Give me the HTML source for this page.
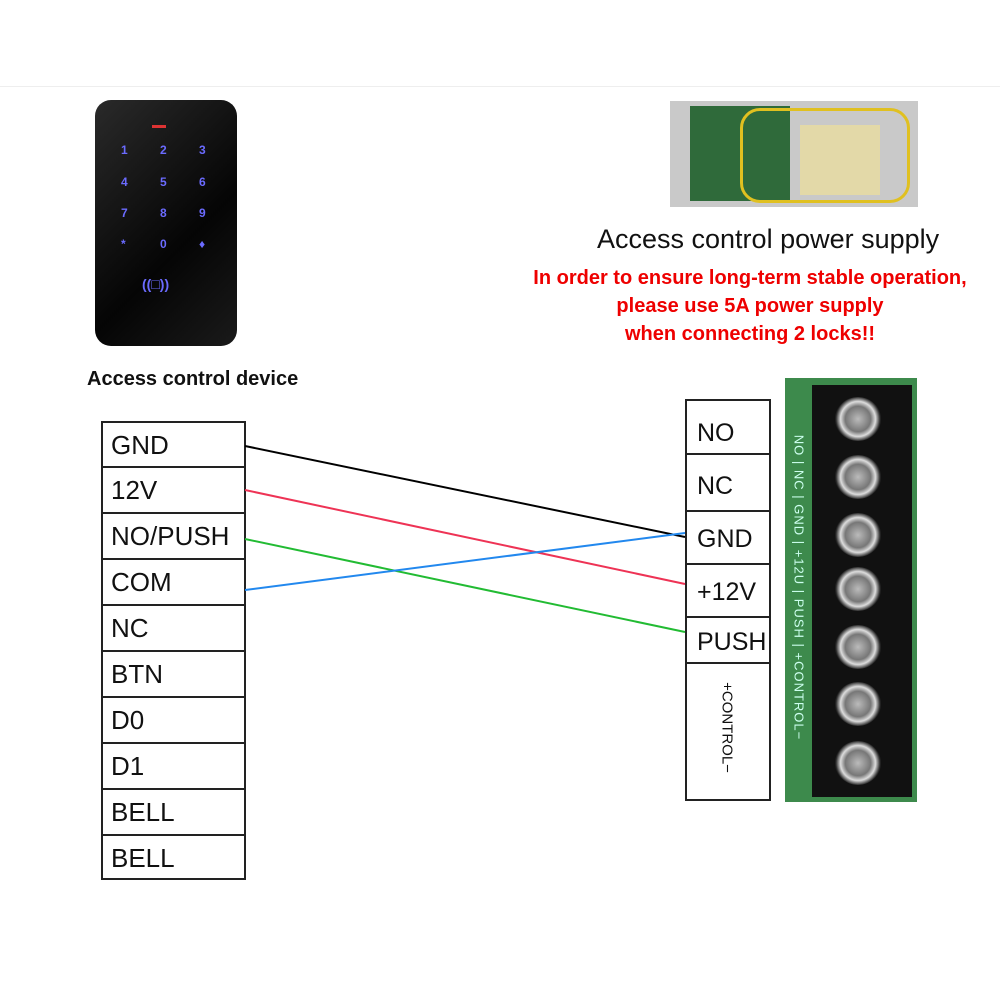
<!DOCTYPE html>
<html><head><style>
body{margin:0;width:1000px;height:1000px;background:#fff;position:relative;overflow:hidden;font-family:"Liberation Sans",sans-serif}
.a{position:absolute}
.t{position:absolute;white-space:nowrap}
.cell{position:absolute;left:101px;width:145px;border:2px solid #222;border-bottom:none;font-size:26px;line-height:44px;padding-left:8px;box-sizing:border-box;height:46px;color:#111}
.rc{position:absolute;left:685px;width:86px;border:2px solid #222;border-bottom:none;font-size:25px;padding-left:10px;box-sizing:border-box;color:#111}
.k{position:absolute;color:#6b6bff;font-size:12px;font-weight:bold}
.scr{position:absolute;left:48px;width:46px;height:44px;border-radius:50%;background:radial-gradient(circle,#bbb 0,#777 40%,#ddd 55%,#222 70%);}
</style></head><body>
<div class="a" style="left:0;top:86px;width:1000px;height:1px;background:#eee"></div>
<div class="a" style="left:95px;top:100px;width:142px;height:246px;border-radius:16px;background:linear-gradient(135deg,#2a2a2a,#050505 60%,#1a1a1a)"></div>
<div class="a" style="left:152px;top:125px;width:14px;height:3px;background:#d33"></div>
<div class="k" style="left:121px;top:143px">1</div><div class="k" style="left:160px;top:143px">2</div><div class="k" style="left:199px;top:143px">3</div>
<div class="k" style="left:121px;top:175px">4</div><div class="k" style="left:160px;top:175px">5</div><div class="k" style="left:199px;top:175px">6</div>
<div class="k" style="left:121px;top:206px">7</div><div class="k" style="left:160px;top:206px">8</div><div class="k" style="left:199px;top:206px">9</div>
<div class="k" style="left:121px;top:237px">*</div><div class="k" style="left:160px;top:237px">0</div><div class="k" style="left:199px;top:237px">&#9830;</div>
<div class="k" style="left:142px;top:276px;font-size:14px">((&#9633;))</div>
<div class="t" style="left:87px;top:368px;font-size:20px;font-weight:bold;color:#111">Access control device</div>
<div class="a" style="left:670px;top:101px;width:248px;height:106px;background:#c9c9c9"></div>
<div class="a" style="left:690px;top:106px;width:100px;height:95px;background:#2f6a3a"></div>
<div class="a" style="left:740px;top:108px;width:170px;height:95px;border:3px solid #e0c020;border-radius:20px;box-sizing:border-box"></div>
<div class="a" style="left:800px;top:125px;width:80px;height:70px;background:#e3d9a8"></div>
<div class="t" style="left:597px;top:224px;font-size:27px;color:#111">Access control power supply</div>
<div class="t" style="left:450px;top:264px;width:600px;text-align:center;font-size:20px;font-weight:bold;color:#e00;line-height:28px">In order to ensure long-term stable operation,<br>please use 5A power supply<br>when connecting 2 locks!!</div>
<div class="cell" style="top:421px">GND</div>
<div class="cell" style="top:466px">12V</div>
<div class="cell" style="top:512px">NO/PUSH</div>
<div class="cell" style="top:558px">COM</div>
<div class="cell" style="top:604px">NC</div>
<div class="cell" style="top:650px">BTN</div>
<div class="cell" style="top:696px">D0</div>
<div class="cell" style="top:742px">D1</div>
<div class="cell" style="top:788px">BELL</div>
<div class="cell" style="top:834px;height:46px;border-bottom:2px solid #222">BELL</div>
<div class="rc" style="top:399px;height:54px;line-height:64px">NO</div>
<div class="rc" style="top:453px;height:57px;line-height:62px">NC</div>
<div class="rc" style="top:510px;height:53px;line-height:54px">GND</div>
<div class="rc" style="top:563px;height:53px;line-height:54px">+12V</div>
<div class="rc" style="top:616px;height:46px;line-height:48px">PUSH</div>
<div class="rc" style="top:662px;height:139px;border-bottom:2px solid #222;padding:0"><div class="t" style="left:-20px;top:55px;transform:rotate(90deg);font-size:15px;width:120px;text-align:center">+CONTROL−</div></div>
<div class="a" style="left:785px;top:378px;width:132px;height:424px;background:#3d8a4c"></div>
<div class="a" style="left:812px;top:385px;width:100px;height:412px;background:#111"></div>
<div class="scr" style="left:835px;top:397px"></div>
<div class="scr" style="left:835px;top:455px"></div>
<div class="scr" style="left:835px;top:513px"></div>
<div class="scr" style="left:835px;top:567px"></div>
<div class="scr" style="left:835px;top:625px"></div>
<div class="scr" style="left:835px;top:682px"></div>
<div class="scr" style="left:835px;top:741px"></div>
<div class="t" style="left:589px;top:580px;transform:rotate(90deg);font-size:13px;color:#cfe;width:420px;text-align:center;letter-spacing:1px">NO | NC | GND | +12U | PUSH | +CONTROL−</div>
<svg class="a" style="left:0;top:0" width="1000" height="1000">
<line x1="245" y1="446" x2="685" y2="537" stroke="#000" stroke-width="2"/>
<line x1="245" y1="490" x2="685" y2="584" stroke="#ee3355" stroke-width="2"/>
<line x1="245" y1="539" x2="685" y2="632" stroke="#22bb33" stroke-width="2"/>
<line x1="245" y1="590" x2="685" y2="533" stroke="#2288ee" stroke-width="2"/>
</svg>
</body></html>
